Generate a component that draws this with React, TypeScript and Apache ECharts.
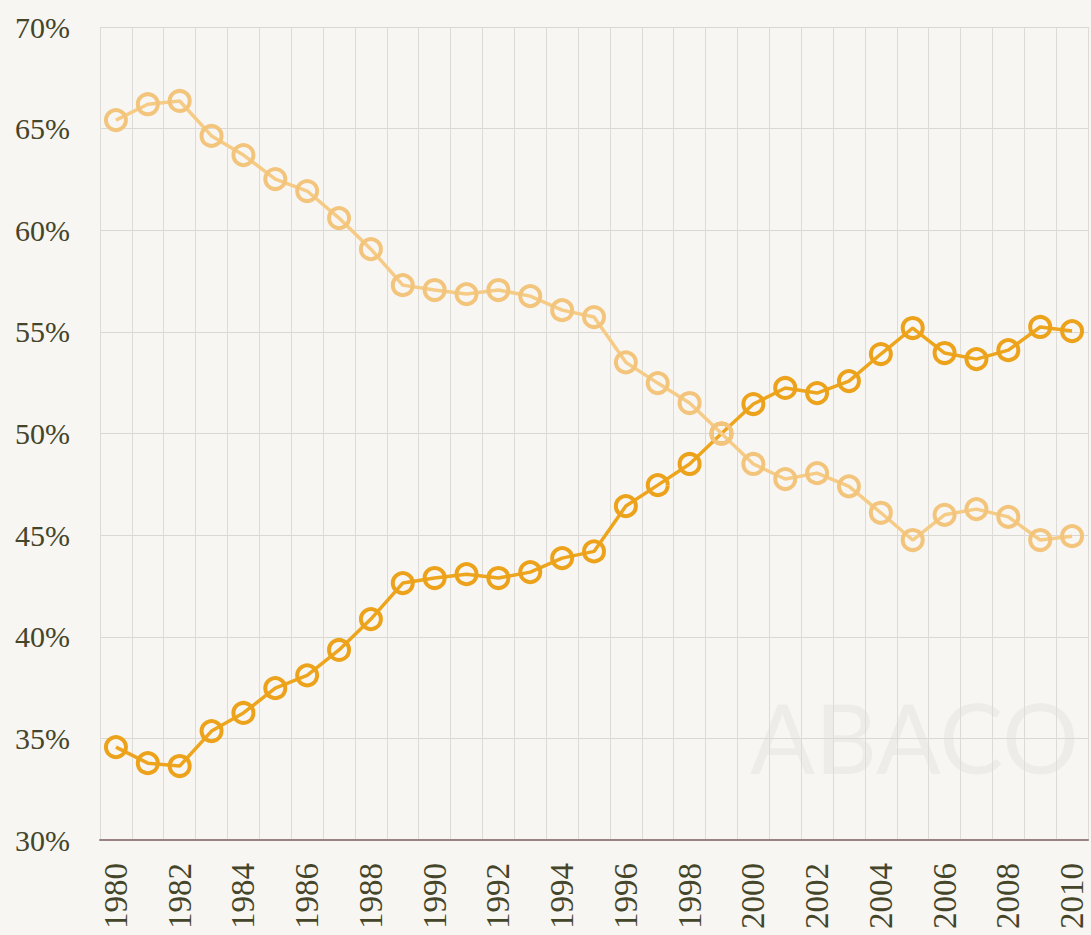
import React, { useEffect, useRef } from "react";
import * as echarts from "echarts";

const years: string[] = [];
for (let y = 1980; y <= 2010; y++) years.push(String(y));

const lightSeries = [
  65.42, 66.2, 66.36, 64.64, 63.7, 62.52, 61.93, 60.6, 59.07, 57.3,
  57.06, 56.86, 57.06, 56.76, 56.07, 55.73, 53.5, 52.48, 51.5, 50.0,
  48.5, 47.76, 48.05, 47.4, 46.1, 44.76, 46.0, 46.28, 45.9, 44.76, 44.95,
];

const darkSeries = [
  34.57, 33.78, 33.64, 35.36, 36.25, 37.47, 38.1, 39.35, 40.87, 42.64,
  42.89, 43.08, 42.89, 43.18, 43.87, 44.2, 46.43, 47.46, 48.5, 50.0,
  51.45, 52.24, 51.99, 52.58, 53.91, 55.19, 53.96, 53.66, 54.1, 55.24, 55.04,
];

const yTicks = { min: 30, max: 70, interval: 5 };

export default function App() {
  const ref = useRef<HTMLDivElement>(null);
  useEffect(() => {
    document.body.style.margin = "0";
    const chart = echarts.init(ref.current!, null, { renderer: "svg" });
    const labelColor = "#45452a";
    const font = "Liberation Serif";
    const mk = (data: number[], color: string, border: string, z: number) => ({
      type: "line",
      data,
      z,
      symbol: "circle",
      symbolSize: 20,
      lineStyle: { color, width: 3.5 },
      itemStyle: { color: "rgba(0,0,0,0)", borderColor: border, borderWidth: 4 },
      emphasis: { disabled: true },
    });
    chart.setOption({
      animation: false,
      backgroundColor: "#f7f6f2",
      grid: { left: 100, right: 3, top: 27, bottom: 95 },
      graphic: [
        {
          type: "text",
          left: 750,
          top: 688,
          z: 0,
          style: {
            text: "ABACO",
            font: "normal 96px Lato",
            fill: "rgba(0,0,0,0.04)",
          },
        },
      ],
      xAxis: {
        type: "category",
        data: years,
        boundaryGap: true,
        axisLine: { show: true, lineStyle: { color: "#9a8282", width: 2 } },
        axisTick: { show: false },
        axisLabel: {
          interval: 1,
          rotate: 90,
          margin: 23,
          fontSize: 33,
          lineHeight: 26,
          fontFamily: font,
          color: labelColor,
        },
        splitLine: { show: true, interval: 0, lineStyle: { color: "#dcdbd5", width: 1 } },
      },
      yAxis: {
        type: "value",
        min: yTicks.min,
        max: yTicks.max,
        interval: yTicks.interval,
        axisLine: { show: false },
        axisTick: { show: false },
        axisLabel: {
          formatter: "{value}%",
          margin: 30,
          fontSize: 30,
          fontFamily: font,
          color: labelColor,
        },
        splitLine: { show: true, lineStyle: { color: "#d9d8d2", width: 1 } },
      },
      series: [
        mk(darkSeries, "#eea51e", "#eca21a", 3),
        mk(lightSeries, "#f6cb86", "#f3c57c", 4),
      ],
    });
    return () => chart.dispose();
  }, []);
  return <div ref={ref} style={{ width: 1091, height: 935 }} />;
}
